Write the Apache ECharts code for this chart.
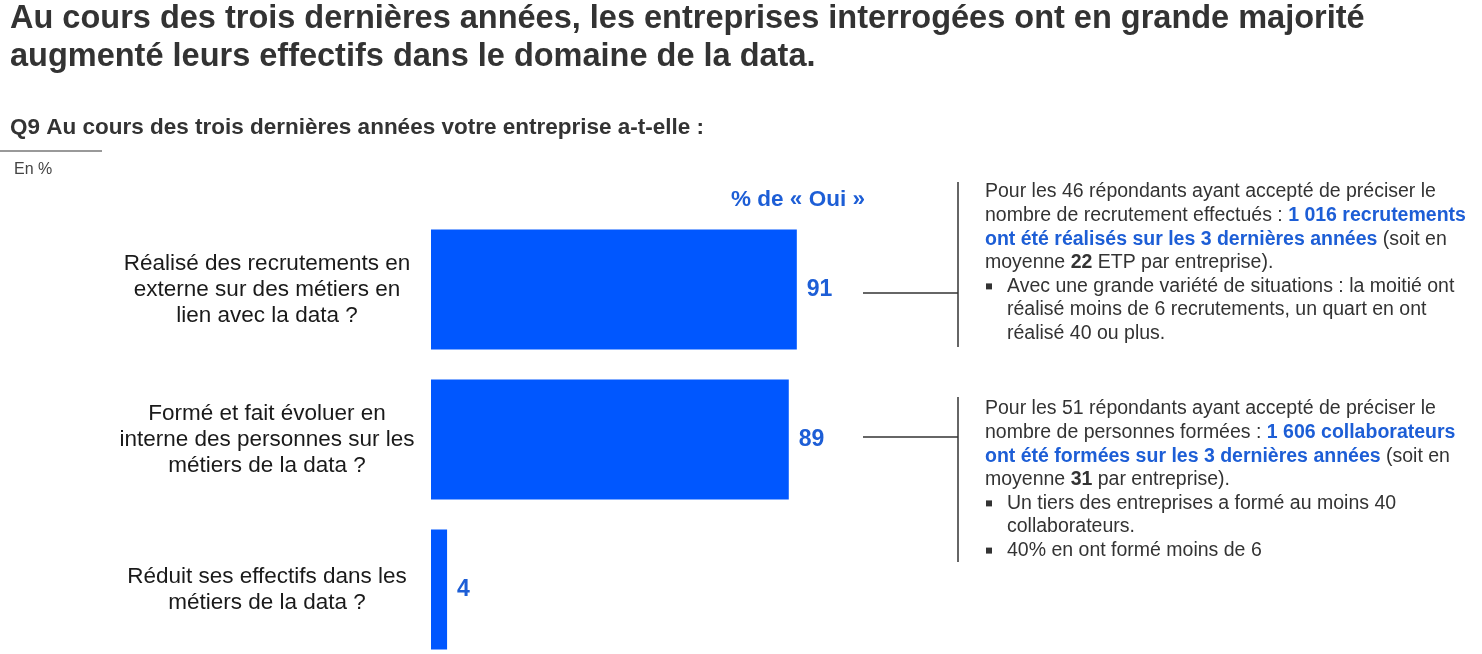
<!DOCTYPE html>
<html><head><meta charset="utf-8">
<script src="https://cdn.jsdelivr.net/npm/echarts@6/dist/echarts.min.js"></script>
<style>html,body{margin:0;padding:0;background:#fff}#c{width:1482px;height:654px}</style>
</head><body><div id="c"></div>
<script>
var categories = [
  "Réalisé des recrutements en\nexterne sur des métiers en\nlien avec la data ?",
  "Formé et fait évoluer en\ninterne des personnes sur les\nmétiers de la data ?",
  "Réduit ses effectifs dans les\nmétiers de la data ?"
];
var values = [91, 89, 4];
var titleLines = [
  "Au cours des trois dernières années, les entreprises interrogées ont en grande majorité",
  "augmenté leurs effectifs dans le domaine de la data."
];
var subtitle = "Q9 Au cours des trois dernières années votre entreprise a-t-elle :";
var unitText = "En %";
var seriesHeader = "% de « Oui »";
var note1 = [
  {indent: 0, t: "{n|Pour les 46 répondants ayant accepté de préciser le}"},
  {indent: 0, t: "{n|nombre de recrutement effectués : }{b|1 016 recrutements}"},
  {indent: 0, t: "{b|ont été réalisés sur les 3 dernières années}{n| (soit en}"},
  {indent: 0, t: "{n|moyenne }{k|22}{n| ETP par entreprise).}"},
  {indent: 1, t: "{n|Avec une grande variété de situations : la moitié ont}"},
  {indent: 2, t: "{n|réalisé moins de 6 recrutements, un quart en ont}"},
  {indent: 2, t: "{n|réalisé 40 ou plus.}"}
];
var note2 = [
  {indent: 0, t: "{n|Pour les 51 répondants ayant accepté de préciser le}"},
  {indent: 0, t: "{n|nombre de personnes formées : }{b|1 606 collaborateurs}"},
  {indent: 0, t: "{b|ont été formées sur les 3 dernières années}{n| (soit en}"},
  {indent: 0, t: "{n|moyenne }{k|31}{n| par entreprise).}"},
  {indent: 1, t: "{n|Un tiers des entreprises a formé au moins 40}"},
  {indent: 2, t: "{n|collaborateurs.}"},
  {indent: 1, t: "{n|40% en ont formé moins de 6}"}
];

var FONT = '"Liberation Sans", Arial, sans-serif';
var BLUE_TXT = '#1d5ed6';
var BAR = '#0057ff';
var NS = 19.5;
var rich = {
  n: {fontSize: NS, fontFamily: FONT, fill: '#333333'},
  b: {fontSize: NS, fontFamily: FONT, fill: BLUE_TXT, fontWeight: 'bold'},
  k: {fontSize: NS, fontFamily: FONT, fill: '#333333', fontWeight: 'bold'}
};
function noteGraphics(lines, y0) {
  var out = [];
  lines.forEach(function (ln, i) {
    var y = y0 + i * 23.6;
    var x = ln.indent ? 1007 : 985;
    if (ln.indent === 1) {
      out.push({type: 'rect', shape: {x: 986, y: y - 3, width: 6, height: 6}, style: {fill: '#333'}});
    }
    out.push({type: 'text', x: x, y: y, style: {text: ln.t, rich: rich, verticalAlign: 'middle', align: 'left'}});
  });
  return out;
}

var graphics = [
  {type: 'text', x: 10, y: 19, style: {text: titleLines[0], font: 'bold 32.5px ' + FONT, fill: '#333333', verticalAlign: 'middle'}},
  {type: 'text', x: 10, y: 57, style: {text: titleLines[1], font: 'bold 32.5px ' + FONT, fill: '#333333', verticalAlign: 'middle'}},
  {type: 'text', x: 10, y: 128, style: {text: subtitle, font: 'bold 22.5px ' + FONT, fill: '#333333', verticalAlign: 'middle'}},
  {type: 'line', shape: {x1: 0, y1: 151, x2: 102, y2: 151}, style: {stroke: '#999999', lineWidth: 2}},
  {type: 'text', x: 14, y: 170, style: {text: unitText, font: '16px ' + FONT, fill: '#444444', verticalAlign: 'middle'}},
  {type: 'text', x: 798, y: 200, style: {text: seriesHeader, font: 'bold 22.5px ' + FONT, fill: BLUE_TXT, verticalAlign: 'middle', align: 'center'}},
  {type: 'line', shape: {x1: 863, y1: 293, x2: 958, y2: 293}, style: {stroke: '#333', lineWidth: 1.5}},
  {type: 'line', shape: {x1: 958, y1: 182, x2: 958, y2: 347}, style: {stroke: '#333', lineWidth: 1.5}},
  {type: 'line', shape: {x1: 863, y1: 437, x2: 958, y2: 437}, style: {stroke: '#333', lineWidth: 1.5}},
  {type: 'line', shape: {x1: 958, y1: 397, x2: 958, y2: 562}, style: {stroke: '#333', lineWidth: 1.5}}
].concat(noteGraphics(note1, 192)).concat(noteGraphics(note2, 409));

var chart = echarts.init(document.getElementById('c'), null, {renderer: 'canvas'});
chart.setOption({
  animation: false,
  backgroundColor: '#ffffff',
  grid: {left: 431, top: 289.5, width: 402, height: 300, containLabel: false},
  xAxis: {type: 'value', min: 0, max: 100, show: false},
  yAxis: {
    type: 'category', data: categories, inverse: true, boundaryGap: false,
    axisLine: {show: false}, axisTick: {show: false}, splitLine: {show: false},
    axisLabel: {align: 'center', margin: 164, fontSize: 22.5, lineHeight: 26, color: '#1a1a1a', fontFamily: FONT}
  },
  series: [{
    type: 'bar', data: values, barWidth: 120,
    itemStyle: {color: BAR},
    label: {show: true, position: 'right', distance: 10, fontSize: 23, fontWeight: 'bold', color: BLUE_TXT, fontFamily: FONT}
  }],
  graphic: graphics
});
</script></body></html>
